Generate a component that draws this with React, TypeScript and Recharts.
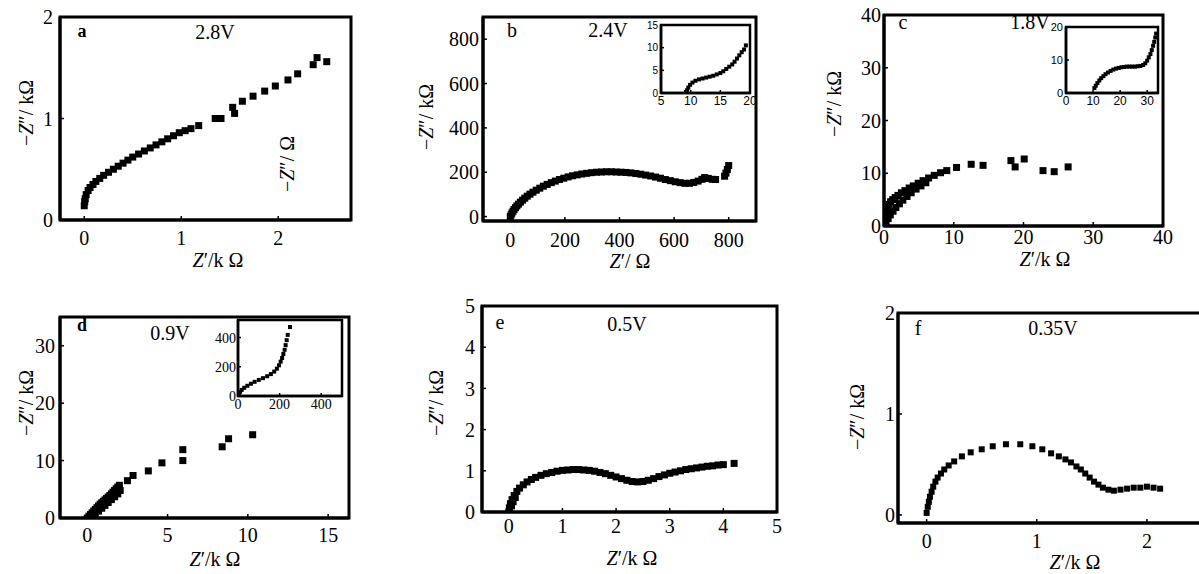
import React from 'react';
import { ScatterChart, Scatter, XAxis, YAxis, ReferenceArea } from 'recharts';

type Pt = { x: number; y: number };
const toPts = (arr: number[][]): Pt[] => arr.map(([x, y]) => ({ x, y }));

// ---------- data (Z' , -Z'') ----------
const panelA = [
  [0.0, 0.14], [0.005, 0.18], [0.01, 0.21], [0.02, 0.25], [0.04, 0.29], [0.06, 0.32], [0.09, 0.35], [0.12, 0.38],
  [0.16, 0.41], [0.2, 0.44], [0.25, 0.47], [0.3, 0.5], [0.35, 0.53], [0.4, 0.56], [0.45, 0.59], [0.5, 0.62],
  [0.56, 0.65], [0.62, 0.68], [0.68, 0.71], [0.74, 0.74], [0.8, 0.77], [0.86, 0.8], [0.92, 0.83], [0.98, 0.86],
  [1.04, 0.88], [1.1, 0.9], [1.18, 0.93], [1.35, 1.0], [1.41, 1.0], [1.53, 1.11], [1.55, 1.05], [1.63, 1.17],
  [1.74, 1.22], [1.86, 1.27], [1.97, 1.32], [2.1, 1.38], [2.2, 1.44], [2.36, 1.53], [2.4, 1.6], [2.5, 1.56],
];
const panelB = [
  [0, 0], [3, 8], [6, 16], [10, 24], [14, 32], [19, 40], [24, 48], [30, 56], [37, 65], [45, 74], [53, 83],
  [62, 92], [72, 101], [83, 110], [95, 119], [108, 128], [121, 137], [135, 145], [150, 153], [165, 160],
  [180, 167], [196, 173], [212, 179], [228, 184], [245, 188], [262, 192], [280, 195], [298, 198], [316, 200],
  [334, 201], [352, 202], [370, 202], [388, 201], [406, 200], [424, 199], [442, 197], [460, 194], [478, 191],
  [496, 187], [514, 183], [532, 178], [550, 173], [568, 167], [586, 162], [604, 157], [622, 153], [640, 150],
  [656, 150], [672, 154], [688, 160], [702, 168], [712, 176], [725, 172], [740, 168], [752, 167], [785, 182],
  [790, 196], [795, 212], [800, 230],
];
const insetB = [
  [9.2, 0.2], [9.4, 0.6], [9.6, 1.2], [9.9, 1.8], [10.3, 2.3], [10.8, 2.7], [11.4, 3.0], [12.0, 3.2], [12.6, 3.4],
  [13.2, 3.6], [13.8, 3.8], [14.4, 4.1], [15.0, 4.4], [15.5, 4.8], [16.0, 5.3], [16.5, 5.8], [17.0, 6.3],
  [17.4, 6.9], [17.8, 7.6], [18.2, 8.3], [18.6, 9.0], [19.0, 9.6], [19.3, 10.5],
];
const panelC = [
  [0, 0], [0.05, 0.8], [0.1, 1.6], [0.2, 2.4], [0.35, 3.1], [0.5, 3.6], [0.7, 4.1], [0.95, 4.6], [1.25, 5.0],
  [1.6, 5.4], [2.0, 5.8], [2.5, 6.3], [3.0, 6.7], [3.6, 7.2], [4.2, 7.6], [4.9, 8.1], [5.6, 8.6], [6.4, 9.1],
  [7.2, 9.6], [8.1, 10.1], [9.0, 10.5], [10.4, 11.1],
  [0.3, 0.7], [0.6, 1.4], [0.9, 2.1], [1.3, 2.8], [1.7, 3.5], [2.2, 4.2], [2.7, 4.9], [3.3, 5.6], [3.9, 6.3],
  [4.6, 7.0], [5.3, 7.6], [6.0, 8.2],
  [12.5, 11.7], [14.2, 11.5], [18.2, 12.4], [18.8, 11.2], [20.1, 12.7], [22.8, 10.5], [24.4, 10.3], [26.4, 11.2],
];
const insetC = [
  [10.5, 1.5], [11.0, 2.2], [11.6, 3.0], [12.3, 3.8], [13.0, 4.5], [13.8, 5.1], [14.6, 5.7], [15.5, 6.2],
  [16.5, 6.7], [17.5, 7.1], [18.5, 7.4], [19.5, 7.6], [20.5, 7.8], [21.5, 7.9], [22.5, 8.0], [23.5, 8.0],
  [24.5, 8.0], [25.5, 8.0], [26.5, 8.1], [27.5, 8.2], [28.5, 8.5], [29.3, 9.0], [30.0, 9.8], [30.6, 10.8],
  [31.2, 11.8], [31.7, 13.0], [32.2, 14.3], [32.6, 15.5], [33.0, 16.8], [33.3, 18.0],
];
const panelD = [
  [0, 0], [0.1, 0.3], [0.2, 0.6], [0.3, 0.9], [0.4, 1.2], [0.5, 1.5], [0.6, 1.8], [0.7, 2.1], [0.8, 2.4],
  [0.9, 2.65], [1.0, 2.9], [1.1, 3.15], [1.2, 3.4], [1.3, 3.65], [1.4, 3.9], [1.5, 4.2], [1.6, 4.5], [1.7, 4.8],
  [1.8, 5.1], [1.9, 5.4], [2.0, 5.7],
  [0.3, 0.2], [0.5, 0.7], [0.7, 1.2], [0.9, 1.7], [1.1, 2.2], [1.3, 2.7], [1.5, 3.2], [1.7, 3.7], [1.9, 4.2],
  [2.05, 4.8],
  [2.5, 6.5], [2.85, 7.4], [3.8, 8.2], [4.65, 9.6], [5.95, 10.0], [5.95, 11.9], [8.4, 12.4], [8.8, 13.8], [10.3, 14.5],
];
const insetD = [
  [0, 0], [4, 15], [10, 28], [18, 42], [30, 56], [45, 70], [62, 84], [80, 97], [100, 110], [120, 122], [140, 135],
  [158, 150], [174, 167], [187, 187], [197, 210], [205, 235], [212, 260], [218, 287], [224, 316], [229, 348],
  [234, 382], [239, 418], [250, 472],
];
const panelE = [
  [0.0, 0.0], [0.01, 0.1], [0.03, 0.2], [0.05, 0.15], [0.06, 0.3], [0.08, 0.25], [0.1, 0.4], [0.12, 0.35],
  [0.15, 0.5], [0.2, 0.58], [0.27, 0.66], [0.34, 0.73], [0.42, 0.79], [0.5, 0.84], [0.6, 0.89], [0.7, 0.93],
  [0.8, 0.96], [0.9, 0.99], [1.0, 1.01], [1.1, 1.02], [1.2, 1.03], [1.3, 1.03], [1.4, 1.02], [1.5, 1.01],
  [1.6, 0.99], [1.7, 0.96], [1.8, 0.93], [1.9, 0.89], [2.0, 0.85], [2.1, 0.81], [2.2, 0.77], [2.3, 0.74],
  [2.4, 0.73], [2.5, 0.74], [2.6, 0.77], [2.7, 0.81], [2.8, 0.86], [2.9, 0.9], [3.0, 0.94], [3.1, 0.97],
  [3.2, 1.0], [3.3, 1.03], [3.4, 1.05], [3.5, 1.07], [3.6, 1.09], [3.7, 1.11], [3.8, 1.12], [3.9, 1.14],
  [4.0, 1.15], [4.2, 1.18],
];
const panelF = [
  [0.0, 0.02], [0.01, 0.08], [0.02, 0.13], [0.03, 0.18], [0.045, 0.23], [0.06, 0.28], [0.08, 0.33], [0.1, 0.37],
  [0.13, 0.41], [0.16, 0.45], [0.2, 0.49], [0.25, 0.53], [0.32, 0.58], [0.4, 0.62], [0.5, 0.65], [0.6, 0.68],
  [0.72, 0.7], [0.85, 0.7], [0.96, 0.68], [1.05, 0.65], [1.13, 0.61], [1.2, 0.58], [1.26, 0.55], [1.31, 0.52],
  [1.36, 0.48], [1.4, 0.45], [1.44, 0.41], [1.48, 0.37], [1.52, 0.33], [1.56, 0.3], [1.6, 0.27], [1.65, 0.25],
  [1.7, 0.24], [1.76, 0.25], [1.82, 0.26], [1.88, 0.27], [1.94, 0.27], [2.0, 0.28], [2.06, 0.27], [2.12, 0.26],
];

// ---------- tick values ----------
const ticksA_x = [0, 1, 2];
const ticksA_y = [0, 1, 2];
const ticksB = [0, 200, 400, 600, 800];
const ticksBin_x = [5, 10, 15, 20];
const ticksBin_y = [0, 5, 10, 15];
const ticksC = [0, 10, 20, 30, 40];
const ticksCin_x = [0, 10, 20, 30];
const ticksCin_y = [0, 10, 20];
const ticksD_x = [0, 5, 10, 15];
const ticksD_y = [0, 10, 20, 30];
const ticksDin = [0, 200, 400];
const ticksE = [0, 1, 2, 3, 4, 5];
const ticksF = [0, 1, 2];

const SERIF = '"Liberation Serif", "DejaVu Serif", serif';
const SANS = '"Liberation Sans", Arial, sans-serif';

type PanelProps = {
  box: [number, number, number, number];
  xd: [number, number];
  yd: [number, number];
  xt: number[];
  yt: number[];
  data: number[][];
  m: number;
  fs: number;
  yfs?: number;
  ff: string;
  sw: number;
  xg: number;
  yg: number;
  tl: number;
};

function Panel({ box, xd, yd, xt, yt, data, m, fs, yfs, ff, sw, xg, yg, tl }: PanelProps) {
  const [l, t, r, b] = box;
  const padL = 70, padT = 14, padR = 14, padB = 40;
  const w = r - l + padL + padR;
  const h = b - t + padT + padB;
  const tickX = { fill: '#000', fontSize: fs, fontFamily: ff };
  const tickY = { fill: '#000', fontSize: yfs ?? fs, fontFamily: ff };
  const pts = toPts(data);
  return (
    <div style={{ position: 'absolute', left: l - padL, top: t - padT, width: w, height: h }}>
      <ScatterChart width={w} height={h} margin={{ top: padT, right: padR, left: 0, bottom: 0 }}>
        <XAxis
          type="number"
          dataKey="x"
          domain={xd}
          ticks={xt}
          interval={0}
          allowDataOverflow
          height={padB}
          axisLine={{ stroke: '#000', strokeWidth: sw }}
          tickLine={{ stroke: '#000', strokeWidth: 1.5 }}
          tickSize={-tl}
          tickMargin={xg + tl}
          tick={tickX}
        />
        <YAxis
          type="number"
          dataKey="y"
          domain={yd}
          ticks={yt}
          interval={0}
          allowDataOverflow
          width={padL}
          axisLine={{ stroke: '#000', strokeWidth: sw }}
          tickLine={{ stroke: '#000', strokeWidth: 1.5 }}
          tickSize={-tl}
          tickMargin={yg + tl}
          tick={tickY}
        />
        <ReferenceArea x1={xd[0]} x2={xd[1]} y1={yd[0]} y2={yd[1]} fill="none" stroke="#000" strokeWidth={sw} strokeOpacity={1} fillOpacity={0} />
        <Scatter
          data={pts}
          isAnimationActive={false}
          shape={(p: any) => <rect x={p.cx - m / 2} y={p.cy - m / 2} width={m} height={m} fill="#000" />}
        />
      </ScatterChart>
    </div>
  );
}

function T({ x, y, size = 20, rot = false, bold = false, ff = SERIF, children }: any) {
  return (
    <div
      style={{
        position: 'absolute',
        left: x,
        top: y,
        transform: `translate(-50%, -50%)${rot ? ' rotate(-90deg)' : ''}`,
        fontSize: size,
        fontFamily: ff,
        fontWeight: bold ? 'bold' : 'normal',
        whiteSpace: 'nowrap',
        lineHeight: 1,
        color: '#000',
      }}
    >
      {children}
    </div>
  );
}

const ZI = () => <i>Z</i>;

export default function App() {
  const FS = 20;
  return (
    <div style={{ position: 'fixed', left: 0, top: 0, width: 1199, height: 574, background: '#fff', overflow: 'hidden' }}>
      {/* a */}
      <Panel box={[60, 17, 351, 220]} xd={[-0.25, 2.75]} yd={[0, 2]} xt={ticksA_x} yt={ticksA_y} data={panelA} m={7} fs={FS} ff={SERIF} sw={3} xg={11} yg={7} tl={4} />
      {/* b */}
      <Panel box={[483, 17, 756, 221]} xd={[-100, 900]} yd={[-20, 900]} xt={ticksB} yt={ticksB} data={panelB} m={7} fs={FS} ff={SERIF} sw={3} xg={12} yg={4} tl={4} />
      <Panel box={[661, 25, 750, 93]} xd={[5, 20]} yd={[0, 15]} xt={ticksBin_x} yt={ticksBin_y} data={insetB} m={4} fs={12} yfs={10} ff={SANS} sw={2.5} xg={3} yg={3} tl={3} />
      {/* c */}
      <Panel box={[884, 15, 1163, 226]} xd={[0, 40]} yd={[0, 40]} xt={ticksC} yt={ticksC} data={panelC} m={7} fs={FS} ff={SERIF} sw={3} xg={4} yg={3} tl={4} />
      <Panel box={[1066, 27, 1158, 93]} xd={[0, 34]} yd={[0, 20]} xt={ticksCin_x} yt={ticksCin_y} data={insetC} m={4} fs={12} yfs={11} ff={SANS} sw={2.5} xg={3} yg={3} tl={3} />
      {/* d */}
      <Panel box={[60, 317, 349, 518]} xd={[-1.7, 16.3]} yd={[0, 35]} xt={ticksD_x} yt={ticksD_y} data={panelD} m={7} fs={FS} ff={SERIF} sw={3} xg={10} yg={5} tl={4} />
      <Panel box={[238, 320, 342, 396]} xd={[0, 500]} yd={[0, 520]} xt={ticksDin} yt={ticksDin} data={insetD} m={4} fs={14} ff={SERIF} sw={2.5} xg={3} yg={2} tl={3} />
      {/* e */}
      <Panel box={[482, 306, 777, 512]} xd={[-0.5, 5]} yd={[0, 5]} xt={ticksE} yt={ticksE} data={panelE} m={7} fs={FS} ff={SERIF} sw={3} xg={7} yg={7} tl={4} />
      {/* f */}
      <Panel box={[898, 313, 1202, 523]} xd={[-0.26, 2.5]} yd={[-0.08, 2]} xt={ticksF} yt={ticksF} data={panelF} m={6} fs={FS} ff={SERIF} sw={3} xg={11} yg={3} tl={4} />

      {/* panel a texts */}
      <T x={82} y={31} bold size={18}>a</T>
      <T x={215} y={32}>2.8V</T>
      <T x={26} y={113} rot>−<ZI />″/ kΩ</T>
      <T x={218} y={260}><ZI />′/k Ω</T>
      <T x={287} y={164} rot>−<ZI />″/ Ω</T>

      {/* panel b texts */}
      <T x={512} y={30}>b</T>
      <T x={608} y={30}>2.4V</T>
      <T x={426} y={117} rot>−<ZI />″/ kΩ</T>
      <T x={630} y={261}><ZI />′/ Ω</T>

      {/* panel c texts */}
      <T x={903} y={22}>c</T>
      <T x={1030} y={22}>1.8V</T>
      <T x={834} y={104} rot>−<ZI />″/ kΩ</T>
      <T x={1045} y={259}><ZI />′/k Ω</T>

      {/* panel d texts */}
      <T x={82} y={325} bold size={18}>d</T>
      <T x={170} y={333}>0.9V</T>
      <T x={26} y={403} rot>−<ZI />″/ kΩ</T>
      <T x={215} y={559}><ZI />′/k Ω</T>

      {/* panel e texts */}
      <T x={500} y={322}>e</T>
      <T x={627} y={324}>0.5V</T>
      <T x={436} y={403} rot>−<ZI />″/ kΩ</T>
      <T x={632} y={558}><ZI />′/k Ω</T>

      {/* panel f texts */}
      <T x={918} y={328}>f</T>
      <T x={1053} y={328}>0.35V</T>
      <T x={857} y={417} rot>−<ZI />″/ kΩ</T>
      <T x={1075} y={562}><ZI />′/k Ω</T>
    </div>
  );
}
